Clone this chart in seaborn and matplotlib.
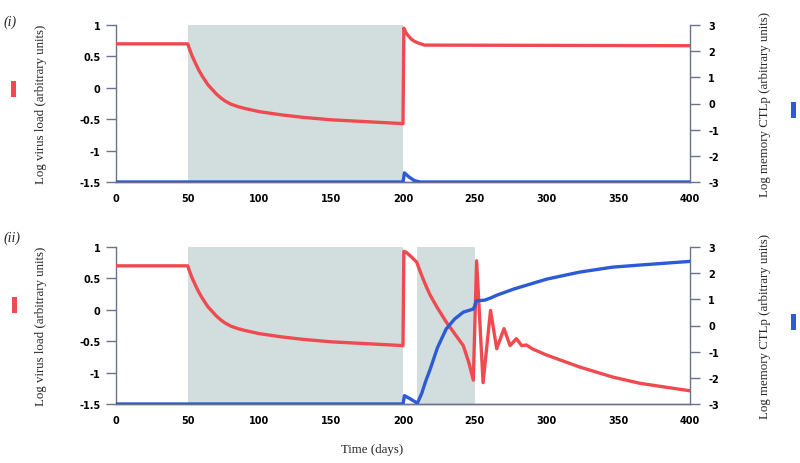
"""Virus load and memory CTLp dynamics under two treatment schedules."""

import matplotlib
matplotlib.use("Agg")
import matplotlib.pyplot as plt
from matplotlib.patches import Rectangle
import seaborn as sns

# Shared pre-treatment phase (days 0-200), virus load on log scale
pre_days = [0, 50, 51, 52, 53, 54, 56, 58, 60, 62, 64, 66, 68, 70, 73, 76, 80, 85, 90,
            100, 115, 130, 150, 175, 200]
pre_virus = [0.7, 0.7, 0.63, 0.57, 0.51, 0.46, 0.36, 0.27, 0.19, 0.12, 0.05, 0.0, -0.05,
             -0.1, -0.16, -0.21, -0.26, -0.3, -0.33, -0.38, -0.43, -0.47, -0.51, -0.54,
             -0.57]

# Panel (i): single treatment 50-200
top_post_days = [200.6, 202, 204, 206, 208, 211, 215, 400]
top_post_virus = [0.95, 0.88, 0.82, 0.77, 0.74, 0.71, 0.68, 0.67]
top_ctl_days = [0, 200, 201, 204, 208, 212, 400]
top_ctl = [-3, -3, -2.65, -2.8, -2.95, -3, -3]
top_spans = [(50, 200)]

# Panel (ii): treatment 50-200, then 210-250
bot_post_days = [200.6, 202, 206, 209.5, 213, 216, 219, 224, 230, 236, 242, 246, 249,
                 251.3, 255.8, 261, 265.3, 270.4, 274.6, 279, 282.7, 286, 290, 300,
                 323, 346, 365, 400]
bot_post_virus = [0.93, 0.92, 0.84, 0.76, 0.55, 0.38, 0.23, 0.03, -0.19, -0.38, -0.57,
                  -0.85, -1.12, 0.78, -1.16, -0.01, -0.62, -0.3, -0.57, -0.46, -0.57,
                  -0.56, -0.62, -0.72, -0.91, -1.07, -1.17, -1.29]
bot_ctl_days = [0, 200, 201, 205, 210, 213, 216, 219, 224, 230, 236, 242, 249, 250, 251,
                257, 261, 265, 277, 300, 323, 346, 365, 400]
bot_ctl = [-3, -3, -2.68, -2.8, -2.97, -2.6, -2.1, -1.66, -0.85, -0.14, 0.25, 0.51, 0.63,
           0.75, 0.94, 0.97, 1.05, 1.15, 1.39, 1.77, 2.04, 2.23, 2.31, 2.45]
bot_spans = [(50, 200), (210, 250)]

x_ticks = [0, 50, 100, 150, 200, 250, 300, 350, 400]
left_ticks = [1, 0.5, 0, -0.5, -1, -1.5]
left_tick_labels = ["1", "0.5", "0", "-0.5", "-1", "-1.5"]
right_ticks = [3, 2, 1, 0, -1, -2, -3]

RED = "#ef4a4f"
BLUE = "#2d5bd6"
SHADE = "#d2dede"
SPINE = "#6a7290"

sns.set_style("white")
plt.rcParams["font.family"] = ["DejaVu Sans"]

fig = plt.figure(figsize=(8, 4.64), dpi=100)
W, H = 800, 464


def px_axes(x0, y0, x1, y1):
    return fig.add_axes([x0 / W, 1 - y1 / H, (x1 - x0) / W, (y1 - y0) / H])


def draw_panel(ax, days, virus, ctl_days, ctl, spans):
    for start, end in spans:
        ax.axvspan(start, end, ymin=0, ymax=1, color=SHADE, lw=0, zorder=0)
    sns.lineplot(x=days, y=virus, ax=ax, color=RED, lw=2.4, sort=False,
                 estimator=None, zorder=3)
    ax.set_xlim(0, 400)
    ax.set_ylim(-1.5, 1)
    ax.set_xticks(x_ticks)
    ax.set_xticklabels([str(t) for t in x_ticks])
    ax.set_yticks(left_ticks)
    ax.set_yticklabels(left_tick_labels)

    ax2 = ax.twinx()
    sns.lineplot(x=ctl_days, y=ctl, ax=ax2, color=BLUE, lw=2.4, sort=False,
                 estimator=None, zorder=3)
    ax2.set_ylim(-3, 3)
    ax2.set_yticks(right_ticks)
    ax2.set_yticklabels([str(t) for t in right_ticks])

    for a in (ax, ax2):
        a.set_xlabel("")
        a.set_ylabel("")
        a.spines["top"].set_visible(False)
        for s in ("left", "right", "bottom"):
            a.spines[s].set_color(SPINE)
            a.spines[s].set_linewidth(1.0)
        a.tick_params(axis="both", colors=SPINE, length=7, width=1.0, labelsize=7,
                      labelcolor="black")
        for lab in a.get_xticklabels() + a.get_yticklabels():
            lab.set_fontweight("bold")
    ax.tick_params(axis="x", direction="inout", length=8, pad=4)
    ax.tick_params(axis="y", direction="out", pad=4)
    ax2.tick_params(axis="y", direction="out", pad=6)
    ax.spines["right"].set_visible(False)
    ax2.spines["left"].set_visible(False)

    ax.set_ylabel("Log virus load (arbitrary units)", family="Liberation Serif",
                  fontsize=9.3)
    ax.yaxis.set_label_coords(-0.12, 0.5)
    ax2.set_ylabel("Log memory CTLp (arbitrary units)", family="Liberation Serif",
                   fontsize=9.3, rotation=90)
    ax2.yaxis.set_label_coords(1.12, 0.5)
    return ax2


ax_top = px_axes(116, 26, 690, 183)
ax_bot = px_axes(116, 248, 690, 405)

draw_panel(ax_top, pre_days + top_post_days, pre_virus + top_post_virus,
           top_ctl_days, top_ctl, top_spans)
draw_panel(ax_bot, pre_days + bot_post_days, pre_virus + bot_post_virus,
           bot_ctl_days, bot_ctl, bot_spans)

fig.text(10 / W, 1 - 22 / H, "(i)", family="Liberation Serif", style="italic",
         fontsize=10, ha="center", va="center")
fig.text(12 / W, 1 - 238 / H, "(ii)", family="Liberation Serif", style="italic",
         fontsize=10, ha="center", va="center")
fig.text(372 / W, 1 - 450 / H, "Time (days)", family="Liberation Serif",
         fontsize=9.3, ha="center", va="center")

# small colour keys beside each axis
for x0, y0, col in [(11, 82, RED), (12, 298, RED), (791, 103, BLUE), (791, 315, BLUE)]:
    fig.patches.append(Rectangle((x0 / W, 1 - (y0 + 16) / H), 5 / W, 16 / H,
                                 transform=fig.transFigure, color=col, lw=0))

fig.savefig("out.png", dpi=100)
